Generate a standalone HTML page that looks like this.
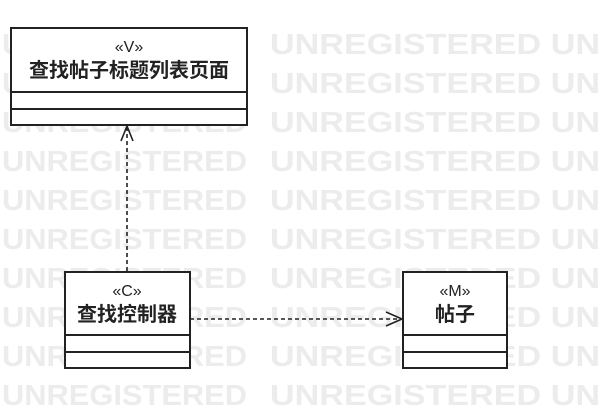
<!DOCTYPE html>
<html><head><meta charset="utf-8"><style>
html,body{margin:0;padding:0;background:#fff;}
body{width:600px;height:414px;overflow:hidden;position:relative;}
</style></head><body>
<svg width="600" height="414" xmlns="http://www.w3.org/2000/svg" style="position:absolute;left:0;top:0">
<g font-family="Liberation Sans, sans-serif" font-weight="bold" font-size="29" fill="#ececec">
<text x="2" y="54" textLength="245" lengthAdjust="spacingAndGlyphs">UNREGISTERED</text><text x="270" y="54" textLength="330" lengthAdjust="spacingAndGlyphs">UNREGISTERED UN</text>
<text x="2" y="93" textLength="245" lengthAdjust="spacingAndGlyphs">UNREGISTERED</text><text x="270" y="93" textLength="330" lengthAdjust="spacingAndGlyphs">UNREGISTERED UN</text>
<text x="2" y="132" textLength="245" lengthAdjust="spacingAndGlyphs">UNREGISTERED</text><text x="270" y="132" textLength="330" lengthAdjust="spacingAndGlyphs">UNREGISTERED UN</text>
<text x="2" y="171" textLength="245" lengthAdjust="spacingAndGlyphs">UNREGISTERED</text><text x="270" y="171" textLength="330" lengthAdjust="spacingAndGlyphs">UNREGISTERED UN</text>
<text x="2" y="210" textLength="245" lengthAdjust="spacingAndGlyphs">UNREGISTERED</text><text x="270" y="210" textLength="330" lengthAdjust="spacingAndGlyphs">UNREGISTERED UN</text>
<text x="2" y="249" textLength="245" lengthAdjust="spacingAndGlyphs">UNREGISTERED</text><text x="270" y="249" textLength="330" lengthAdjust="spacingAndGlyphs">UNREGISTERED UN</text>
<text x="2" y="288" textLength="245" lengthAdjust="spacingAndGlyphs">UNREGISTERED</text><text x="270" y="288" textLength="330" lengthAdjust="spacingAndGlyphs">UNREGISTERED UN</text>
<text x="2" y="327" textLength="245" lengthAdjust="spacingAndGlyphs">UNREGISTERED</text><text x="270" y="327" textLength="330" lengthAdjust="spacingAndGlyphs">UNREGISTERED UN</text>
<text x="2" y="366" textLength="245" lengthAdjust="spacingAndGlyphs">UNREGISTERED</text><text x="270" y="366" textLength="330" lengthAdjust="spacingAndGlyphs">UNREGISTERED UN</text>
<text x="2" y="405" textLength="245" lengthAdjust="spacingAndGlyphs">UNREGISTERED</text><text x="270" y="405" textLength="330" lengthAdjust="spacingAndGlyphs">UNREGISTERED UN</text>
</g>
<g stroke="#222" stroke-width="2" fill="#fff">
<rect x="11" y="28" width="236" height="97"/>
<line x1="11" y1="92" x2="247" y2="92"/><line x1="11" y1="109" x2="247" y2="109"/>
<rect x="65" y="272" width="125" height="96"/>
<line x1="65" y1="335" x2="190" y2="335"/><line x1="65" y1="352" x2="190" y2="352"/>
<rect x="403" y="272" width="104" height="96"/>
<line x1="403" y1="335" x2="507" y2="335"/><line x1="403" y1="352" x2="507" y2="352"/>
</g>
<g stroke="#222" stroke-width="1.6" fill="none">
<line x1="127" y1="127" x2="127" y2="272" stroke-dasharray="4,3"/>
<polyline points="121,141 127,126 133,141"/>
<line x1="190" y1="319" x2="401" y2="319" stroke-dasharray="4,3"/>
<polyline points="386,312 402,319 386,326"/>
</g>
<g font-family="Liberation Sans, Noto Sans CJK SC, sans-serif" text-anchor="middle" fill="#222">
<text x="129" y="52" font-size="16">«V»</text>
<text x="129" y="77" font-size="20" font-weight="bold">查找帖子标题列表页面</text>
<text x="127" y="296" font-size="16">«C»</text>
<text x="127" y="321" font-size="20" font-weight="bold">查找控制器</text>
<text x="455" y="296" font-size="16">«M»</text>
<text x="455" y="321" font-size="20" font-weight="bold">帖子</text>
</g>
</svg>
</body></html>
